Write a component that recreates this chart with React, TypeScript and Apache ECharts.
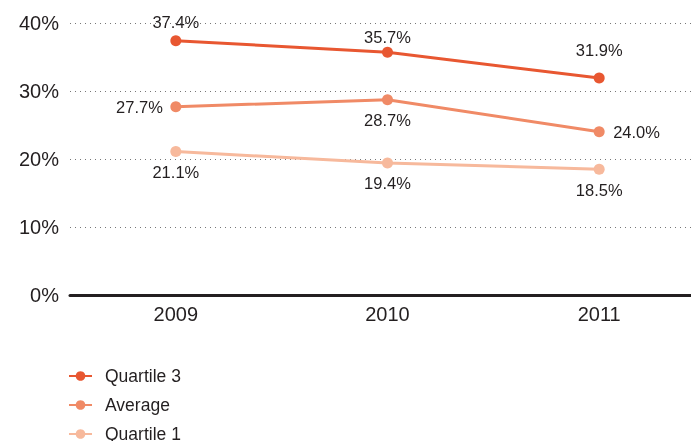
import React, { useEffect, useRef } from "react";
import * as echarts from "echarts";

const categories = ["2009", "2010", "2011"];
const quartile3 = [37.4, 35.7, 31.9];
const average = [27.7, 28.7, 24.0];
const quartile1 = [21.1, 19.4, 18.5];
const yTicks = [0, 10, 20, 30, 40];

const FONT = "'Liberation Sans', Arial, Helvetica, sans-serif";
const TEXT = "#231f20";

export default function App() {
  const ref = useRef<HTMLDivElement>(null);
  useEffect(() => {
    if (!ref.current) return;
    const chart = echarts.init(ref.current, null, { renderer: "svg" });
    const lbl = (pos: string, dist = 5) => ({
      show: true,
      position: pos,
      distance: dist,
      formatter: (p: any) => `${Number(p.value).toFixed(1)}%`,
      color: TEXT,
      fontSize: 16.5,
      fontFamily: FONT,
    });
    const mk = (vals: number[], labels: any[]) =>
      vals.map((v, i) => ({ value: v, label: labels[i] }));
    chart.setOption({
      animation: false,
      grid: {
        left: 70,
        top: 23,
        right: -14,
        height: 272,
        containLabel: false,
        outerBoundsMode: "none",
      },
      legend: {
        orient: "vertical",
        left: 68,
        top: 366,
        height: 90,
        padding: 0,
        itemGap: 9,
        itemWidth: 23,
        itemHeight: 12,
        textStyle: {
          color: TEXT,
          fontSize: 17.5,
          lineHeight: 20,
          fontFamily: FONT,
          padding: [0, 0, 0, 8],
        },
        data: ["Quartile 3", "Average", "Quartile 1"],
      },
      xAxis: {
        type: "category",
        data: categories,
        boundaryGap: true,
        axisLine: { show: true, lineStyle: { color: TEXT, width: 3 } },
        axisTick: { show: false },
        axisLabel: { color: TEXT, fontSize: 20, fontFamily: FONT, margin: 9 },
      },
      yAxis: {
        type: "value",
        min: 0,
        max: 40,
        interval: 10,
        axisLine: { show: false },
        axisTick: { show: false },
        axisLabel: {
          color: TEXT,
          fontSize: 20,
          fontFamily: FONT,
          margin: 11,
          formatter: (v: number) => (yTicks.includes(v) ? `${v}%` : ""),
        },
        splitLine: { show: true, lineStyle: { color: "#777", type: [1, 4], width: 1 } },
      },
      series: [
        {
          name: "Quartile 3",
          type: "line",
          symbol: "circle",
          symbolSize: 11,
          color: "#e85731",
          lineStyle: { width: 3 },
          data: mk(quartile3, [lbl("top", 4.5), lbl("top", 1), lbl("top", 14)]),
          z: 3,
        },
        {
          name: "Average",
          type: "line",
          symbol: "circle",
          symbolSize: 11,
          color: "#f08a66",
          lineStyle: { width: 3 },
          data: mk(average, [lbl("left", 7.5), lbl("bottom", 6.5), lbl("right", 8.5)]),
          z: 2,
        },
        {
          name: "Quartile 1",
          type: "line",
          symbol: "circle",
          symbolSize: 11,
          color: "#f7b99c",
          lineStyle: { width: 3 },
          data: mk(quartile1, [lbl("bottom", 6.5), lbl("bottom", 6), lbl("bottom", 7)]),
          z: 1,
        },
      ],
    });
    return () => chart.dispose();
  }, []);
  return (
    <div
      ref={ref}
      style={{ position: "fixed", left: 0, top: 0, width: 691, height: 441 }}
    />
  );
}
